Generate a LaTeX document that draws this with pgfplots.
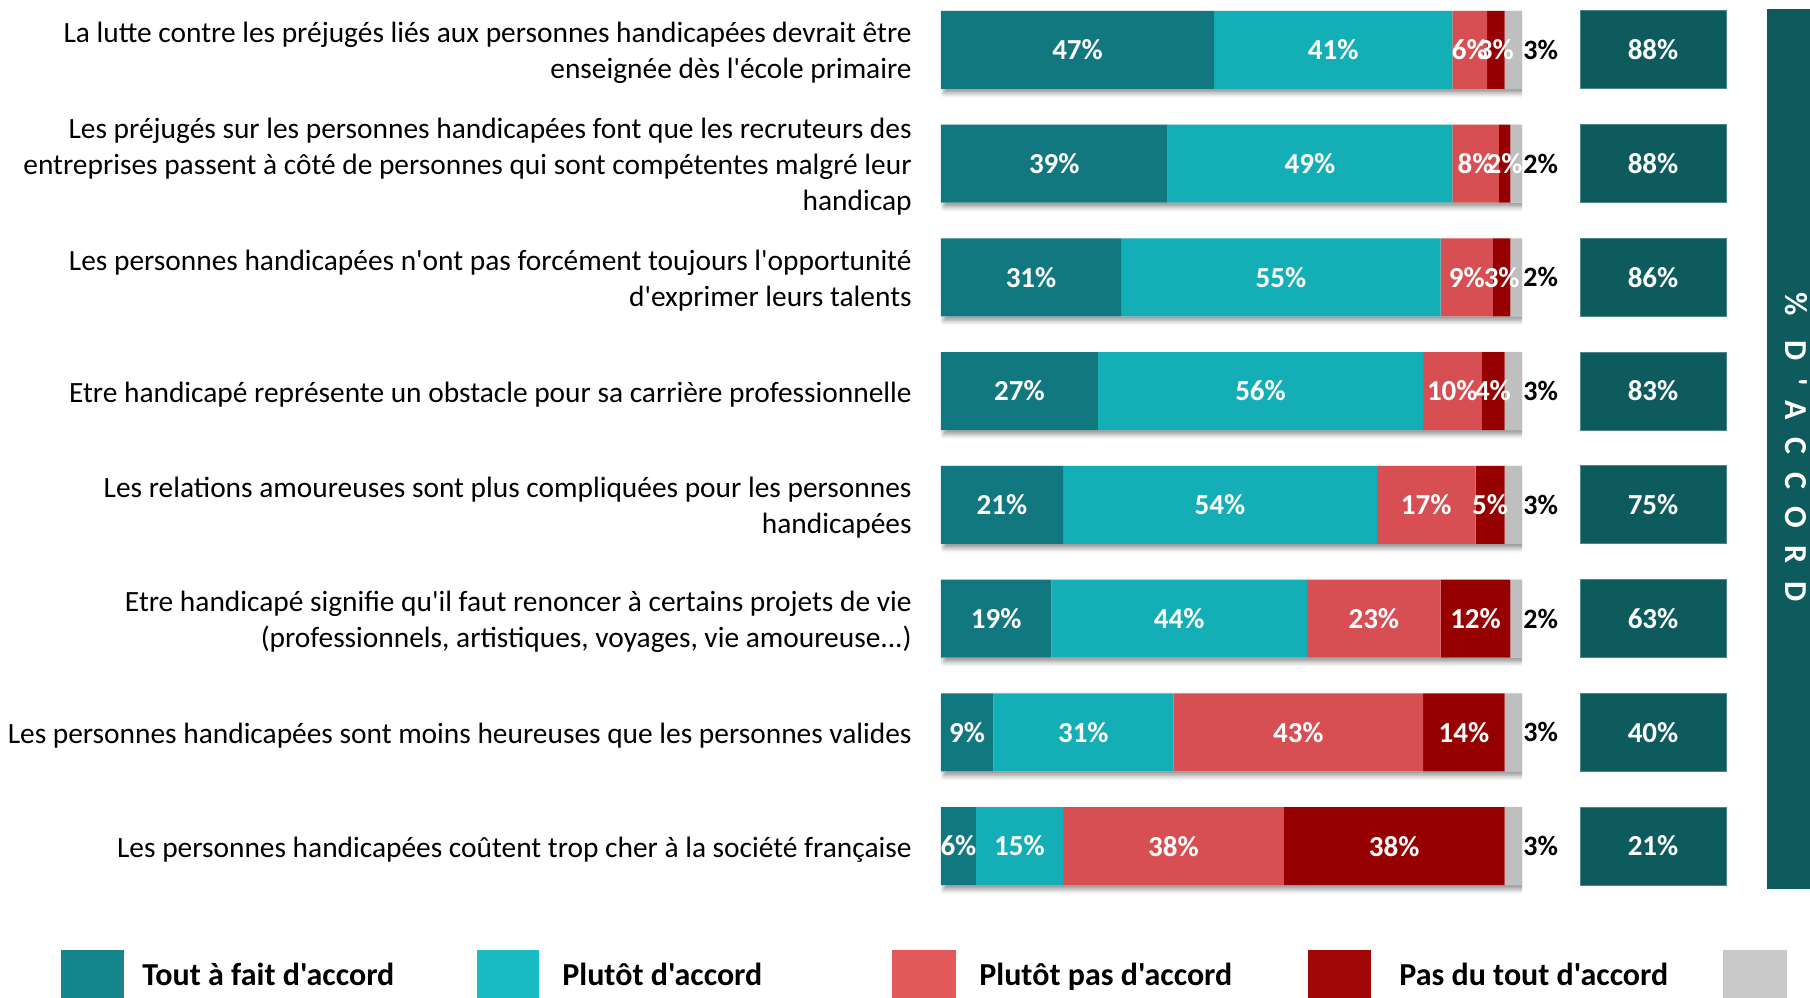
\documentclass[border=0pt]{standalone}
\usepackage{pgfplots}
\pgfplotsset{compat=1.18}
\usepackage{pgfplotstable}
\usepackage{fontspec}
\setmainfont{Carlito}[Ligatures=TeXOff]
\usetikzlibrary{shadows.blur}
\newcommand{\tdots}{...}

\definecolor{c1}{HTML}{10787E}
\definecolor{c2}{HTML}{14AEB6}
\definecolor{c3}{HTML}{D84F53}
\definecolor{c4}{HTML}{960000}
\definecolor{c5}{HTML}{BFBFBF}
\definecolor{cbox}{HTML}{0E5B5E}
\definecolor{cboxedge}{HTML}{4A8789}
\definecolor{l1}{HTML}{15868B}
\definecolor{l2}{HTML}{19BCC4}
\definecolor{l3}{HTML}{E35858}
\definecolor{l4}{HTML}{A20707}
\definecolor{l5}{HTML}{C9C9C9}

\pgfplotstableread{
y a b c d e agree
8 47 41 6 3 3 88
7 39 49 8 2 2 88
6 31 55 9 3 2 86
5 27 56 10 4 3 83
4 21 54 17 5 3 75
3 19 44 23 12 2 63
2 9 31 43 14 3 40
1 6 15 38 38 3 21
}\data

\pgfplotsset{rowgeom/.style={scale only axis, height=455.04pt, ymin=0.5, ymax=8.5, anchor=south west}}

\begin{document}
\begin{tikzpicture}
\path[use as bounding box] (0,0) rectangle (905pt,498.5pt);
\clip (0,0) rectangle (905pt,498.5pt);

% shadows of the bars
\begin{axis}[rowgeom, at={(470.5pt,47pt)}, width=290.5pt, xmin=0, xmax=100, hide axis]
\addplot[xbar, bar width=39pt, bar shift=0pt, fill=white, draw=none,
  blur shadow={shadow xshift=1.5pt, shadow yshift=-2pt, shadow blur radius=2.5pt, shadow opacity=45}]
  table[x expr=\thisrow{a}+\thisrow{b}+\thisrow{c}+\thisrow{d}+\thisrow{e}, y=y]{\data};
\end{axis}

% stacked bars with statements
\begin{axis}[rowgeom, at={(470.5pt,47pt)}, width=290.5pt, xmin=0, xmax=100,
  xbar stacked, bar width=39pt,
  axis line style={draw=none}, xtick=\empty, ytick={1,2,3,4,5,6,7,8},
  major tick length=0pt,
  yticklabels={
    {Les personnes handicapées coûtent trop cher à la société française},
    {Les personnes handicapées sont moins heureuses que les personnes valides},
    {Etre handicapé signifie qu'il faut renoncer à certains projets de vie\\(professionnels, artistiques, voyages, vie amoureuse\tdots)},
    {Les relations amoureuses sont plus compliquées pour les personnes\\handicapées},
    {Etre handicapé représente un obstacle pour sa carrière professionnelle},
    {Les personnes handicapées n'ont pas forcément toujours l'opportunité\\d'exprimer leurs talents},
    {Les préjugés sur les personnes handicapées font que les recruteurs des\\entreprises passent à côté de personnes qui sont compétentes malgré leur\\handicap},
    {La lutte contre les préjugés liés aux personnes handicapées devrait être\\enseignée dès l'école primaire}
  },
  yticklabel style={anchor=east, inner sep=0pt, xshift=-14.5pt, yshift=-1.6pt, align=right, font=\fontsize{14.7}{18}\selectfont}]
\addplot[fill=c1, draw=none] table[x=a, y=y]{\data};
\addplot[fill=c2, draw=none] table[x=b, y=y]{\data};
\addplot[fill=c3, draw=none] table[x=c, y=y]{\data};
\addplot[fill=c4, draw=none] table[x=d, y=y]{\data};
\addplot[fill=c5, draw=none] table[x=e, y=y]{\data};
\end{axis}

% value labels
\begin{axis}[rowgeom, at={(470.5pt,47pt)}, width=290.5pt, xmin=0, xmax=100, hide axis, clip=false,
  point meta=explicit symbolic, nodes near coords={\pgfplotspointmeta\%},
  nodes near coords style={anchor=center, inner sep=0pt, text=white, font=\fontsize{14.5}{17}\bfseries}]
\addplot[only marks, mark=none] table[x expr=\thisrow{a}/2, y=y, meta=a]{\data};
\addplot[only marks, mark=none] table[x expr=\thisrow{a}+\thisrow{b}/2, y=y, meta=b]{\data};
\addplot[only marks, mark=none] table[x expr=\thisrow{a}+\thisrow{b}+\thisrow{c}/2, y=y, meta=c]{\data};
\addplot[only marks, mark=none] table[x expr=\thisrow{a}+\thisrow{b}+\thisrow{c}+\thisrow{d}/2, y=y, meta=d]{\data};
\addplot[only marks, mark=none, nodes near coords style={anchor=west, text=black, xshift=0.5pt, font=\fontsize{14}{17}\bfseries}]
  table[x expr=\thisrow{a}+\thisrow{b}+\thisrow{c}+\thisrow{d}+\thisrow{e}, y=y, meta=e]{\data};
\end{axis}

% agreement totals
\begin{axis}[rowgeom, at={(790pt,47pt)}, width=73pt, xmin=0, xmax=1, hide axis, clip=false]
\addplot[xbar, bar width=39pt, bar shift=0pt, fill=cbox, draw=cboxedge, line width=0.5pt] table[x expr=1, y=y]{\data};
\addplot[only marks, mark=none, point meta=explicit symbolic, nodes near coords={\pgfplotspointmeta\%},
  nodes near coords style={anchor=center, inner sep=0pt, text=white, font=\fontsize{14.5}{17}\bfseries}]
  table[x expr=0.5, y=y, meta=agree]{\data};
\end{axis}

% vertical side band
\fill[cbox] (883.5pt,54pt) rectangle (930pt,494pt);
\node[rotate=-90, text=white, inner sep=0pt, font=\fontsize{16}{16}\bfseries\addfontfeature{LetterSpace=55}] at (898pt,275pt) {\% D'ACCORD};

% legend
\fill[l1] (30.5pt,-10pt) rectangle (62pt,23.5pt);
\fill[l2] (238.5pt,-10pt) rectangle (269.5pt,23.5pt);
\fill[l3] (446pt,-10pt) rectangle (478pt,23.5pt);
\fill[l4] (654pt,-10pt) rectangle (685.5pt,23.5pt);
\fill[l5] (861.5pt,-10pt) rectangle (893.5pt,23.5pt);
\begin{scope}[every node/.style={anchor=base west, inner sep=0pt, font=\fontsize{16}{16}\bfseries}]
\node at (71pt,6pt) {Tout à fait d'accord};
\node at (281pt,6pt) {Plutôt d'accord};
\node at (489.5pt,6pt) {Plutôt pas d'accord};
\node at (699.5pt,6pt) {Pas du tout d'accord};
\end{scope}
\end{tikzpicture}
\end{document}
